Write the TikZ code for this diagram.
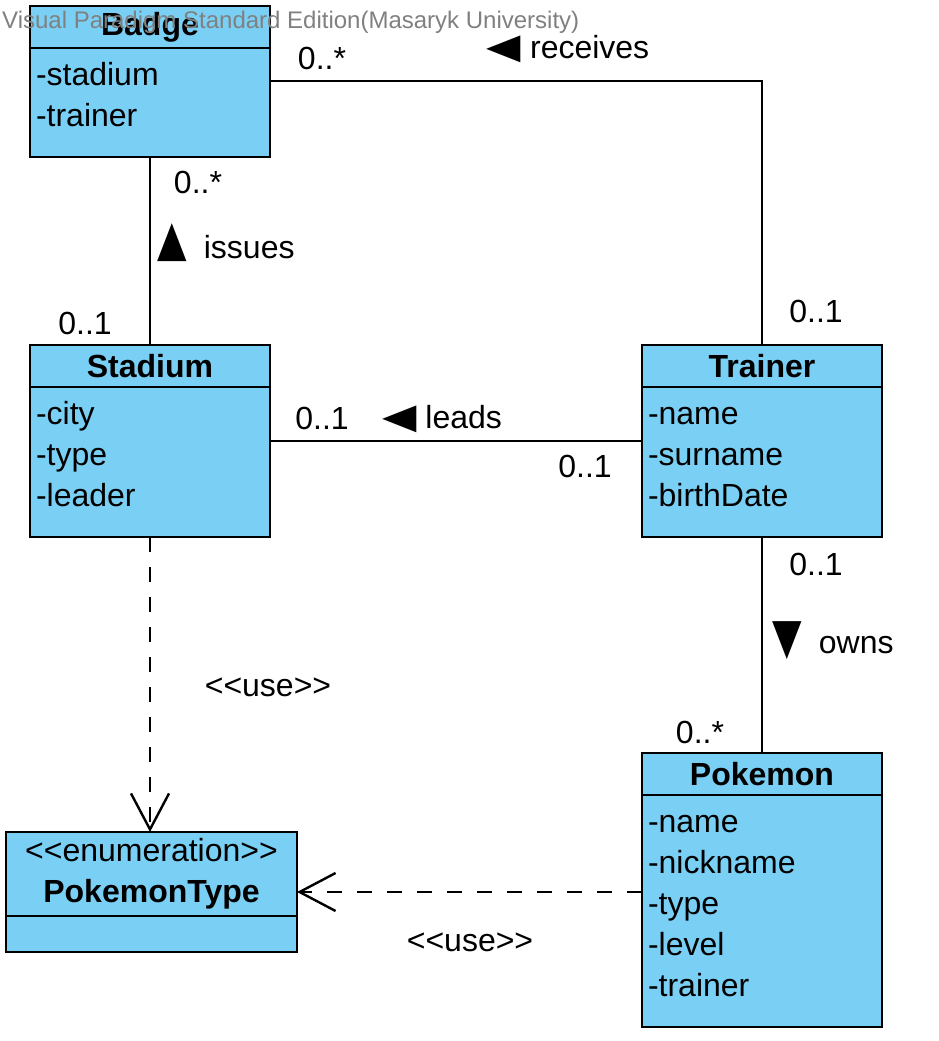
\documentclass[tikz,border=0pt]{standalone}
\usepackage{fontspec}
\setmainfont{Liberation Sans}
\newfontfamily\symfont{DejaVu Sans}
\usetikzlibrary{positioning,arrows.meta}

\definecolor{classfill}{RGB}{122,207,245}
\definecolor{wmgray}{RGB}{128,128,128}
\newcommand{\attrtop}{\rule{0pt}{29pt}}
\newcommand{\attrbot}{\rule[-23pt]{0pt}{23pt}}
\newcommand{\stereo}[1]{<\kern0pt<#1>\kern0pt>}
\newcommand{\dirleft}{{\symfont\scalebox{1.4}[1.1]{◀}}}
\newcommand{\dirup}{{\symfont\raisebox{3pt}{\scalebox{1.2}[1.55]{▲}}}\kern8pt}
\newcommand{\dirdown}{{\symfont\scalebox{1.2}[1.55]{▼}}\kern8pt}

\begin{document}
\begin{tikzpicture}[x=1pt, y=-1pt,
    classbox/.style={
        rectangle,
        draw=black, line width=2.6pt,
        fill=classfill,
        outer sep=0pt, inner sep=0pt,
        minimum width=240pt},
    classhead/.style={classbox,
        minimum height=42pt,
        font=\fontsize{32}{41}\selectfont\bfseries},
    classbody/.style={classbox,
        text width=228pt, inner xsep=6pt, inner ysep=8pt,
        align=left,
        font=\fontsize{32}{41}\selectfont,
        execute at begin node=\attrtop,
        execute at end node=\attrbot},
    mult/.style={anchor=base, inner sep=0pt, font=\fontsize{32}{41}\selectfont},
    assoc/.style={line width=2.4pt},
    usedep/.style={line width=2.4pt, dash pattern=on 15pt off 15pt,
        -{Straight Barb[length=36pt,width=38pt]}}]

    \useasboundingbox (0,0) rectangle (939,1041);

    \node (badge) [classhead] at (150,27) {Badge};
    \node (badge_attr) [classbody, below=0pt of badge] {-stadium\\-trainer};

    \node (stadium) [classhead] at (150,366) {Stadium};
    \node (stadium_attr) [classbody, below=0pt of stadium] {-city\\-type\\-leader};

    \node (trainer) [classhead] at (762,366) {Trainer};
    \node (trainer_attr) [classbody, below=0pt of trainer] {-name\\-surname\\-birthDate};

    \node (pokemon) [classhead] at (762,774) {Pokemon};
    \node (pokemon_attr) [classbody, below=0pt of pokemon] {-name\\-nickname\\-type\\-level\\-trainer};

    \node (ptype) [classhead, minimum width=291pt, minimum height=84pt, align=center] at (151.5,874)
        {{\mdseries\stereo{enumeration}}\\PokemonType};
    \node (ptype_attr) [classbox, minimum width=291pt, minimum height=36pt, below=0pt of ptype] {};

    \draw[assoc] ([yshift=21.5pt]badge_attr.east) -| (trainer.north);
    \draw[assoc] (badge_attr.south) -- (stadium.north);
    \draw[assoc] ([yshift=21pt]stadium_attr.east) -- ([yshift=21pt]trainer_attr.west);
    \draw[assoc] (trainer_attr.south) -- (pokemon.north);

    \draw[usedep] (stadium_attr.south) -- (stadium_attr.south |- ptype.north);
    \draw[usedep] ([yshift=19pt]pokemon_attr.west) -- ([yshift=19pt]pokemon_attr.west -| ptype.east);

    \node (m_badge_r) [mult] at (322,70) {0..*};
    \node (m_trainer_t) [mult] at (816,322) {0..1};
    \node (m_badge_b) [mult] at (198,193) {0..*};
    \node (m_stadium_t) [mult] at (85,334) {0..1};
    \node (m_stadium_r) [mult] at (322,429) {0..1};
    \node (m_trainer_l) [mult] at (585,477) {0..1};
    \node (m_trainer_b) [mult] at (816,575) {0..1};
    \node (m_pokemon_t) [mult] at (700,743) {0..*};

    \node (receives) [mult] at (568,59) {\dirleft{} receives};
    \node (issues) [mult] at (226,258) {\dirup{} issues};
    \node (leads) [mult] at (442,428) {\dirleft{} leads};
    \node (owns) [mult] at (833,653) {\dirdown{} owns};

    \node (use_stadium) [mult] at (268,696) {\stereo{use}};
    \node (use_pokemon) [mult] at (470,951) {\stereo{use}};

    \node (watermark) [anchor=base west, inner sep=0pt, text=wmgray, font=\fontsize{24}{28}\selectfont] at (2,29)
        {Visual Paradigm Standard Edition(Masaryk University)};
\end{tikzpicture}
\end{document}
